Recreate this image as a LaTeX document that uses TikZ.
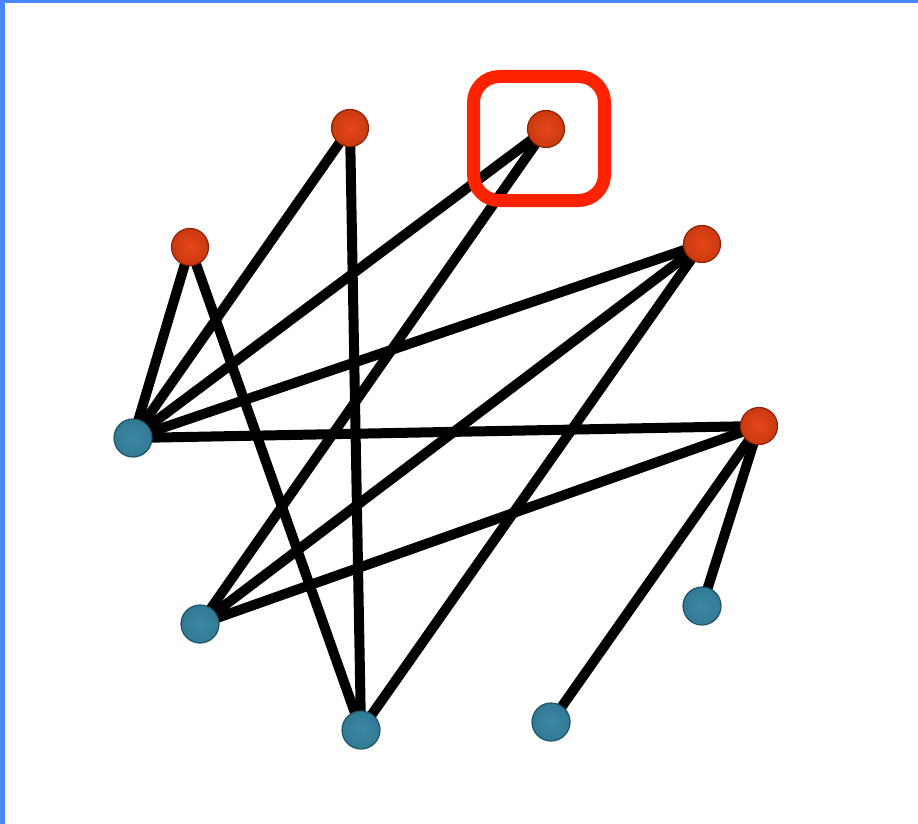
\documentclass[tikz,border=0pt]{standalone}
\usetikzlibrary{backgrounds}
\definecolor{frameblue}{HTML}{4A86FF}
\definecolor{hilite}{HTML}{FF2200}
\definecolor{rc1}{HTML}{E4461A}
\definecolor{rc2}{HTML}{CC3A10}
\definecolor{rc3}{HTML}{5A1004}
\definecolor{bc1}{HTML}{3C88A4}
\definecolor{bc2}{HTML}{327A95}
\definecolor{bc3}{HTML}{0E2E3A}
\pgfdeclareradialshading{redsh}{\pgfpoint{0bp}{0bp}}{color(0bp)=(rc1); color(24bp)=(rc2); color(38bp)=(rc2!60!rc3); color(50bp)=(rc3)}
\pgfdeclareradialshading{bluesh}{\pgfpoint{0bp}{0bp}}{color(0bp)=(bc1); color(24bp)=(bc2); color(38bp)=(bc2!60!bc3); color(50bp)=(bc3)}
\tikzset{
  rednode/.style={circle,minimum size=37pt,inner sep=0pt,shading=redsh,draw=rc2!45!rc3,line width=1.2pt},
  bluenode/.style={circle,minimum size=38pt,inner sep=0pt,shading=bluesh,draw=bc2!50!bc3,line width=1.2pt},
  edge/.style={line width=10pt,black},
  hibox/.style={draw=hilite,line width=13pt,rounded corners=26pt}
}
\begin{document}
\begin{tikzpicture}[x=1pt,y=-1pt]
\useasboundingbox (0,0) rectangle (918,824);
% nodes
\node[rednode] (r1) at (350,128) {};
\node[rednode] (r2) at (546,129) {};
\node[rednode] (r3) at (190,247) {};
\node[rednode] (r4) at (702,244) {};
\node[rednode] (r5) at (759,426) {};
\node[bluenode] (b1) at (133,438) {};
\node[bluenode] (b2) at (200,624) {};
\node[bluenode] (b3) at (361,730) {};
\node[bluenode] (b4) at (551,722) {};
\node[bluenode] (b5) at (702,606) {};
\begin{scope}[on background layer]
\fill[white] (0,0) rectangle (918,824);
\fill[frameblue] (0,0) rectangle (918,3);
\fill[frameblue] (0,0) rectangle (5,824);
\draw[edge] (b1.center) -- (r3.center);
\draw[edge] (b1.center) -- (r1.center);
\draw[edge] (b1.center) -- (r2.center);
\draw[edge] (b1.center) -- (r4.center);
\draw[edge] (b1.center) -- (r5.center);
\draw[edge] (r3.center) -- (b3.center);
\draw[edge] (r1.center) -- (b3.center);
\draw[edge] (r2.center) -- (b2.center);
\draw[edge] (r4.center) -- (b2.center);
\draw[edge] (r4.center) -- (b3.center);
\draw[edge] (r5.center) -- (b2.center);
\draw[edge] (r5.center) -- (b5.center);
\draw[edge] (r5.center) -- (b4.center);
\end{scope}
% highlight box
\node[hibox,minimum width=131pt,minimum height=124pt] (hl) at (539,138.5) {};
\end{tikzpicture}
\end{document}
